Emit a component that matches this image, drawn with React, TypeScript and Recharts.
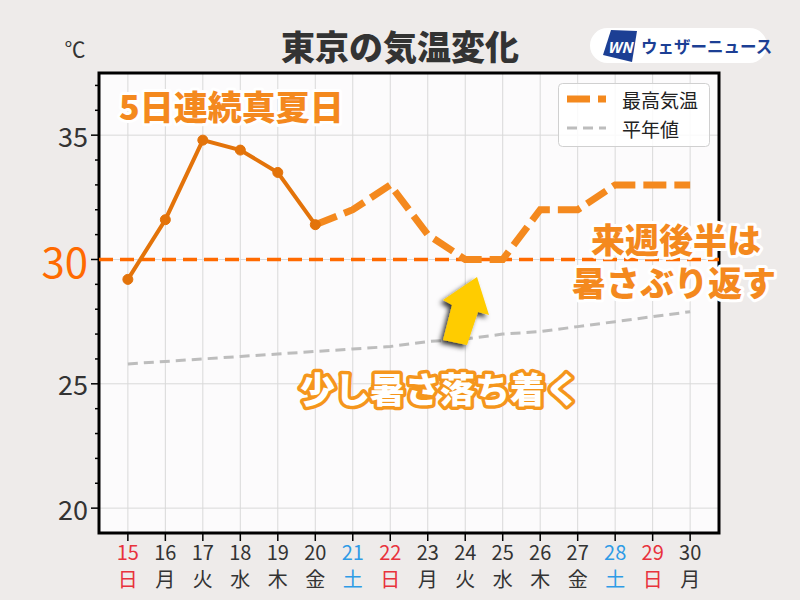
import React from 'react';
import {
  LineChart,
  Line,
  XAxis,
  YAxis,
  CartesianGrid,
  ReferenceLine,
  ReferenceArea,
} from 'recharts';

// days of the month and their weekday labels
const days = [15, 16, 17, 18, 19, 20, 21, 22, 23, 24, 25, 26, 27, 28, 29, 30];
const weekdays = ['日', '月', '火', '水', '木', '金', '土', '日', '月', '火', '水', '木', '金', '土', '日', '月'];

// observed highs (solid) and forecast highs (dashed)
const maxObserved = [29.2, 31.6, 34.8, 34.4, 33.5, 31.4, null, null, null, null, null, null, null, null, null, null];
const maxForecast = [null, null, null, null, null, 31.4, 32, 33, 31, 30, 30, 32, 32, 33, 33, 33];
const normalTemp = [25.8, 25.9, 26.0, 26.1, 26.2, 26.3, 26.4, 26.5, 26.7, 26.8, 27.0, 27.1, 27.3, 27.5, 27.7, 27.9];

const yTicks = [20, 21, 22, 23, 24, 25, 26, 27, 28, 29, 30, 31, 32, 33, 34, 35, 36, 37];
const yMajor = [20, 25, 30, 35];
const HOT_LINE = 30;

const X_DOMAIN: [number, number] = [14.23, 30.77];
const Y_DOMAIN: [number, number] = [19, 37.5];

const FONT = '"Noto Sans CJK JP", "Noto Sans", sans-serif';
const OBS_COLOR = '#E3730A';
const FCST_COLOR = '#F4891E';
const HOT_COLOR = '#FF6A00';
const NORMAL_COLOR = '#BDBDBD';

const chartData = days.map((d, i) => ({
  day: d,
  observed: maxObserved[i],
  forecast: maxForecast[i],
  normal: normalTemp[i],
}));

const dayColor = (wd: string) => (wd === '日' ? '#E8323C' : wd === '土' ? '#2E9BE6' : '#333333');

const XTick = (props: any) => {
  const { x, y, payload } = props;
  const i = days.indexOf(payload.value);
  const color = dayColor(weekdays[i]);
  return (
    <g>
      <line x1={x} x2={x} y1={y} y2={y + 8} stroke="#000" strokeWidth={1.5} />
      <text x={x} y={y + 18} textAnchor="middle" dominantBaseline="central" fontSize={20} fill={color} fontFamily={FONT}>
        {payload.value}
      </text>
      <text x={x} y={y + 45} textAnchor="middle" dominantBaseline="central" fontSize={20} fill={color} fontFamily={FONT}>
        {weekdays[i]}
      </text>
    </g>
  );
};

const YTick = (props: any) => {
  const { x, y, payload } = props;
  const v = payload.value;
  const major = yMajor.includes(v);
  return (
    <g>
      <line x1={x - (major ? 8 : 4)} x2={x} y1={y} y2={y} stroke="#000" strokeWidth={1.5} />
      {major && (
        <text
          x={x - 11}
          y={y}
          textAnchor="end"
          dominantBaseline="central"
          fontSize={v === HOT_LINE ? 42 : 27}
          fill={v === HOT_LINE ? HOT_COLOR : '#333333'}
          fontFamily={FONT}
        >
          {v}
        </text>
      )}
    </g>
  );
};

const outlined = {
  fontFamily: FONT,
  fontWeight: 900,
  strokeLinejoin: 'round' as const,
  paintOrder: 'stroke',
};

export default function App() {
  return (
    <div style={{ position: 'absolute', left: 0, top: 0, width: 800, height: 600, background: '#EEEBEA', fontFamily: FONT }}>
      <LineChart width={800} height={600} data={chartData} margin={{ top: 73, right: 81, left: 0, bottom: 0 }}>
        <CartesianGrid stroke="#D9D9D9" strokeWidth={1} fill="#FCFBFC" fillOpacity={1} horizontalValues={yMajor} verticalValues={days} />
        <XAxis
          dataKey="day"
          type="number"
          domain={X_DOMAIN}
          ticks={days}
          interval={0}
          allowDataOverflow
          axisLine={false}
          tickSize={0}
          tickMargin={0}
          height={67}
          tick={<XTick />}
        />
        <YAxis
          type="number"
          domain={Y_DOMAIN}
          ticks={yTicks}
          interval={0}
          allowDataOverflow
          axisLine={false}
          tickSize={0}
          tickMargin={0}
          width={99}
          tick={<YTick />}
        />
        <Line
          dataKey="normal"
          stroke={NORMAL_COLOR}
          strokeWidth={3}
          strokeDasharray="10 6"
          dot={false}
          type="linear"
          isAnimationActive={false}
        />
        <ReferenceLine y={HOT_LINE} stroke={HOT_COLOR} strokeWidth={3.5} strokeDasharray="14 7" />
        <Line
          dataKey="forecast"
          stroke={FCST_COLOR}
          strokeWidth={7}
          strokeDasharray="23 8"
          dot={false}
          type="linear"
          isAnimationActive={false}
        />
        <Line
          dataKey="observed"
          stroke={OBS_COLOR}
          strokeWidth={4}
          dot={{ r: 5, fill: OBS_COLOR, stroke: OBS_COLOR, strokeWidth: 1 }}
          type="linear"
          isAnimationActive={false}
        />
        <ReferenceArea x1={X_DOMAIN[0]} x2={X_DOMAIN[1]} y1={Y_DOMAIN[0]} y2={Y_DOMAIN[1]} fill="none" stroke="#000" strokeWidth={3} />
      </LineChart>

      <svg width={800} height={600} style={{ position: 'absolute', left: 0, top: 0, pointerEvents: 'none' }}>
        <defs>
          <filter id="arrowShadow" x="-50%" y="-50%" width="200%" height="200%">
            <feDropShadow dx={-3} dy={3} stdDeviation={2.5} floodColor="#000" floodOpacity={0.8} />
          </filter>
        </defs>
        {/* title and unit */}
        <text x={400} y={45} textAnchor="middle" dominantBaseline="central" fontSize={34} fontWeight={900} fill="#333" fontFamily={FONT}>
          東京の気温変化
        </text>
        <text x={75} y={48} textAnchor="middle" dominantBaseline="central" fontSize={21} fill="#333" fontFamily={FONT}>
          ℃
        </text>

        {/* logo */}
        <rect x={590} y={28} width={177} height={35} rx={17.5} fill="#fff" />
        <polygon points="611,30 637,31 632,62 603,55" fill="#1C3F94" />
        <text x={620} y={46} textAnchor="middle" dominantBaseline="central" fontSize={15} fontWeight={700} fontStyle="italic" fill="#fff" fontFamily={FONT}>
          WN
        </text>
        <text x={641} y={46} dominantBaseline="central" fontSize={16.5} fontWeight={700} fill="#1C3F94" fontFamily={FONT}>
          ウェザーニュース
        </text>

        {/* legend */}
        <rect x={558.5} y={83.5} width={151} height={63} rx={4} fill="#fff" fillOpacity={0.85} stroke="#d0d0d0" />
        <line x1={567} x2={606} y1={99} y2={99} stroke={FCST_COLOR} strokeWidth={7} strokeDasharray="23 8" />
        <line x1={567} x2={606} y1={128} y2={128} stroke={NORMAL_COLOR} strokeWidth={3} strokeDasharray="10 6" />
        <text x={622} y={99} dominantBaseline="central" fontSize={19} fill="#222" fontFamily={FONT}>最高気温</text>
        <text x={622} y={128} dominantBaseline="central" fontSize={19} fill="#222" fontFamily={FONT}>平年値</text>

        {/* annotations */}
        <text x={119} y={105} dominantBaseline="central" fontSize={34} fill={FCST_COLOR} stroke="#fff" strokeWidth={6} {...outlined}>
          5日連続真夏日
        </text>
        <text x={676} y={238} textAnchor="middle" dominantBaseline="central" fontSize={34} fill={FCST_COLOR} stroke="#fff" strokeWidth={6} {...outlined}>
          来週後半は
        </text>
        <text x={674} y={281} textAnchor="middle" dominantBaseline="central" fontSize={34} fill={FCST_COLOR} stroke="#fff" strokeWidth={6} {...outlined}>
          暑さぶり返す
        </text>
        <text x={440} y={387} textAnchor="middle" dominantBaseline="central" fontSize={35} fill="#fff" stroke="#F5961C" strokeWidth={7} {...outlined}>
          少し暑さ落ち着く
        </text>

        {/* arrow */}
        <polygon
          points="477,277 489,315 478,312 467,345 443,340 452,305 443,300"
          fill="#FFCC00"
          filter="url(#arrowShadow)"
        />
      </svg>
    </div>
  );
}
